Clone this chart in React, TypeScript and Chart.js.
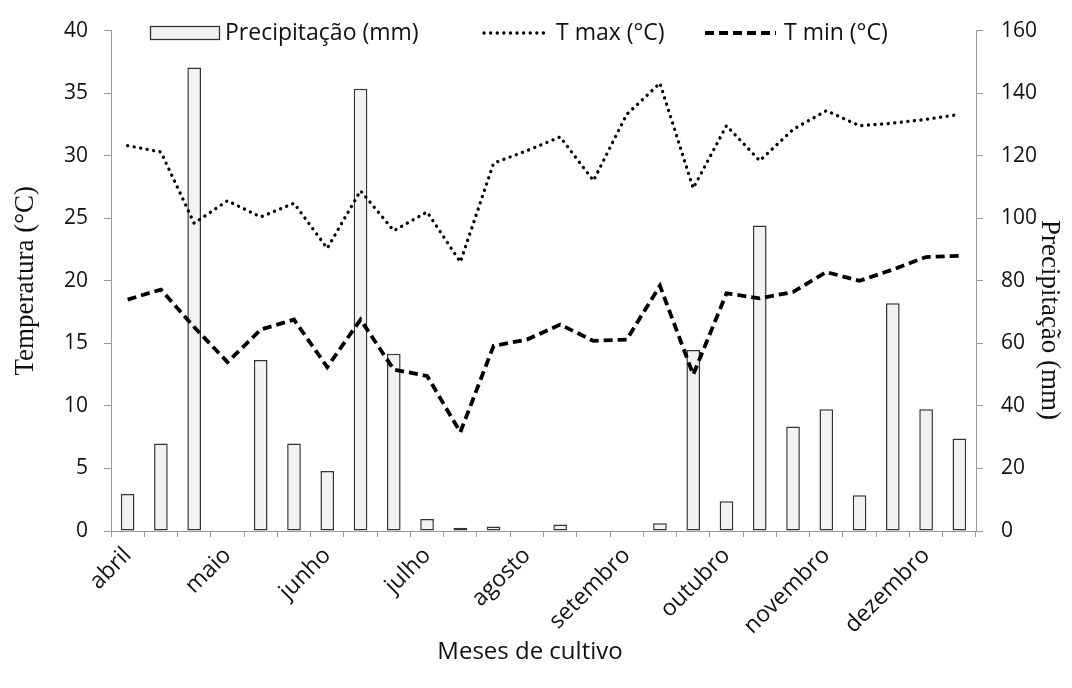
import React, { useEffect, useRef } from "react";
import { Chart, registerables } from "chart.js";

Chart.register(...registerables);

// ---- data ----
const categories = [
  "abril", "", "", "maio", "", "", "junho", "", "", "julho", "", "", "agosto", "", "",
  "setembro", "", "", "outubro", "", "", "novembro", "", "", "dezembro", "",
];
const precipitacao = [
  11.8, 28.0, 148.2, 0, 54.7, 28.0, 19.2, 141.4, 56.7, 3.8, 1.0, 1.4, 0,
  2.1, 0, 0, 2.5, 57.9, 9.5, 97.7, 33.4, 38.9, 11.4, 72.8, 38.9, 29.6,
];
const tMax = [
  30.8, 30.3, 24.6, 26.4, 25.1, 26.2, 22.6, 27.2, 24.0, 25.5, 21.5, 29.4, 30.4,
  31.5, 28.0, 33.3, 35.8, 27.4, 32.4, 29.6, 32.1, 33.6, 32.4, 32.6, 32.9, 33.3,
];
const tMin = [
  18.5, 19.3, 16.3, 13.5, 16.1, 16.9, 13.1, 16.9, 12.9, 12.4, 7.9, 14.8, 15.3,
  16.5, 15.2, 15.3, 19.6, 12.5, 19.0, 18.6, 19.1, 20.7, 20.0, 20.9, 21.9, 22.0,
];
const seriesLabels = ["Precipitação (mm)", "T max (°C)", "T min (°C)"];
const xTitle = "Meses de cultivo";
const yLeftTitle = "Temperatura (°C)";
const yRightTitle = "Precipitação (mm)";

const SANS = "'Open Sans', sans-serif";
const SERIF = "'Liberation Serif', 'Times New Roman', serif";
const TEXT = "#111111";
const AXIS = "#9a9a9a";
const BAR_FILL = "#f2f2f2";
const BAR_EDGE = "#333333";

const overlayPlugin = {
  id: "overlay",
  afterDraw(chart: any) {
    const ctx = chart.ctx as CanvasRenderingContext2D;
    const ds = chart.data.datasets;
    ctx.save();
    // legend
    const ly = 33;
    ctx.fillStyle = BAR_FILL;
    ctx.strokeStyle = BAR_EDGE;
    ctx.lineWidth = 1.3;
    ctx.fillRect(150.5, 26.5, 69, 13);
    ctx.strokeRect(150.5, 26.5, 69, 13);
    ctx.font = `23px ${SANS}`;
    ctx.fillStyle = TEXT;
    ctx.textAlign = "left";
    ctx.textBaseline = "middle";
    ctx.fillText(ds[0].label, 225, ly);

    ctx.strokeStyle = "#000";
    ctx.lineWidth = 3.3;
    ctx.lineCap = "round";
    ctx.setLineDash([0.1, 6.5]);
    ctx.beginPath();
    ctx.moveTo(484, ly);
    ctx.lineTo(550, ly);
    ctx.stroke();
    ctx.fillText(ds[1].label, 556, ly);

    ctx.lineWidth = 3.8;
    ctx.lineCap = "butt";
    ctx.setLineDash([9, 5]);
    ctx.beginPath();
    ctx.moveTo(705, ly);
    ctx.lineTo(776, ly);
    ctx.stroke();
    ctx.setLineDash([]);
    ctx.fillText(ds[2].label, 784, ly);

    // x title
    ctx.textAlign = "center";
    ctx.font = `24px ${SANS}`;
    ctx.fillText(xTitle, 530, 652);

    // right title
    ctx.font = `27px ${SERIF}`;
    ctx.translate(1049, 320);
    ctx.rotate(Math.PI / 2);
    ctx.fillText(yRightTitle, 0, 0);
    ctx.restore();
  },
};

export default function App() {
  const ref = useRef<HTMLCanvasElement | null>(null);

  useEffect(() => {
    if (!ref.current) return;
    const chart = new Chart(ref.current, {
      type: "bar",
      data: {
        labels: categories,
        datasets: [
          {
            type: "bar",
            label: seriesLabels[0],
            data: precipitacao,
            yAxisID: "y1",
            backgroundColor: BAR_FILL,
            borderColor: BAR_EDGE,
            borderWidth: 1.5,
            borderSkipped: false,
            barPercentage: 0.41,
            categoryPercentage: 1,
            order: 3,
          },
          {
            type: "line",
            label: seriesLabels[1],
            data: tMax,
            yAxisID: "y",
            borderColor: "#000",
            borderWidth: 3.3,
            borderDash: [0.1, 6.5],
            borderCapStyle: "round",
            pointRadius: 0,
            tension: 0,
            fill: false,
            order: 1,
          },
          {
            type: "line",
            label: seriesLabels[2],
            data: tMin,
            yAxisID: "y",
            borderColor: "#000",
            borderWidth: 3.8,
            borderDash: [9, 5],
            borderCapStyle: "butt",
            pointRadius: 0,
            tension: 0,
            fill: false,
            order: 2,
          },
        ],
      } as any,
      options: {
        animation: false,
        responsive: true,
        maintainAspectRatio: false,
        layout: { padding: { top: 24, left: 0, right: 0, bottom: 0 } },
        plugins: { legend: { display: false }, tooltip: { enabled: false } },
        scales: {
          x: {
            type: "category",
            offset: true,
            grid: { offset: true, drawOnChartArea: false, drawTicks: true, tickLength: 6, color: AXIS },
            border: { display: true, color: AXIS, width: 1 },
            ticks: {
              autoSkip: false,
              maxRotation: 45,
              minRotation: 45,
              padding: 5,
              color: TEXT,
              font: { family: SANS, size: 23 },
            },
            afterFit: (s: any) => {
              s.height = 157;
            },
          },
          y: {
            position: "left",
            min: 0,
            max: 40,
            grid: { drawOnChartArea: false, drawTicks: true, tickLength: 7, color: AXIS },
            border: { display: true, color: AXIS, width: 1 },
            ticks: { stepSize: 5, padding: 16, color: TEXT, font: { family: SANS, size: 21 } },
            title: {
              display: true,
              text: yLeftTitle,
              color: TEXT,
              font: { family: SERIF, size: 27 },
              padding: { top: 10, bottom: 0 },
            },
            afterFit: (s: any) => {
              s.width = 111;
            },
          },
          y1: {
            position: "right",
            min: 0,
            max: 160,
            grid: { drawOnChartArea: false, drawTicks: true, tickLength: 7, color: AXIS },
            border: { display: true, color: AXIS, width: 1 },
            ticks: { stepSize: 20, padding: 18, color: TEXT, font: { family: SANS, size: 21 } },
            afterFit: (s: any) => {
              s.width = 96;
            },
          },
        },
      } as any,
      plugins: [overlayPlugin],
    });
    return () => chart.destroy();
  }, []);

  return (
    <div style={{ position: "fixed", left: 0, top: 0, width: 1072, height: 688, background: "#fff" }}>
      <canvas ref={ref} />
    </div>
  );
}
